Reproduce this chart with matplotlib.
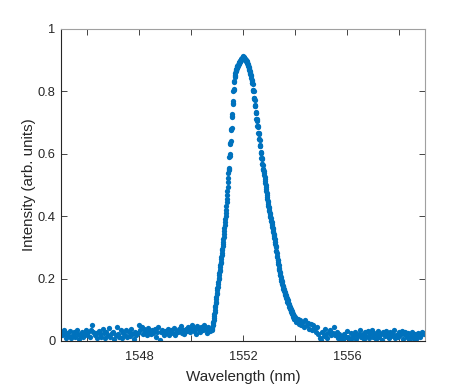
import numpy as np
import matplotlib
matplotlib.use("Agg")
import matplotlib.pyplot as plt
from matplotlib.ticker import FixedLocator

# ---- data ----
# left baseline: 1545.00 .. 1550.75 nm, step 0.05 nm
wl_left_start, wl_left_step = 1545.00, 0.05
int_left = [
    0.030, 0.018, 0.035, 0.022, 0.010, 0.026, 0.015, 0.032, 0.008, 0.020,
    0.028, 0.014, 0.034, 0.022, 0.006, 0.018, 0.030, 0.014, 0.024, 0.036,
    0.020, 0.028, 0.012, 0.034, 0.052, 0.030, 0.018, 0.026, 0.010, 0.032,
    0.022, 0.014, 0.038, 0.026, 0.008, 0.028, 0.020, 0.042, 0.012, 0.025,
    0.030, 0.006, 0.018, 0.044, 0.024, 0.014, 0.034, 0.010, 0.026, 0.020,
    0.036, 0.012, 0.028, 0.017, 0.040, 0.024, 0.006, 0.030, 0.019, 0.027,
    0.050, 0.034, 0.046, 0.024, 0.040, 0.030, 0.018, 0.042, 0.032, 0.024,
    0.036, 0.026, 0.040, 0.014, 0.030, 0.044, 0.004, 0.028, 0.034, 0.020,
    0.032, 0.026, 0.040, 0.020, 0.031, 0.036, 0.025, 0.042, 0.018, 0.033,
    0.029, 0.038, 0.048, 0.026, 0.035, 0.022, 0.040, 0.031, 0.045, 0.028,
    0.038, 0.050, 0.031, 0.042, 0.024, 0.048, 0.036, 0.029, 0.044, 0.034,
    0.050, 0.040, 0.027, 0.045, 0.036, 0.032,
]

# peak region: 1550.80 .. 1553.99 nm, step 0.01 nm
wl_peak_start, wl_peak_step = 1550.80, 0.01
int_peak = [
    0.035, 0.040, 0.043, 0.050, 0.051, 0.057, 0.060, 0.068, 0.074, 0.080,
    0.086, 0.094, 0.100, 0.108, 0.113, 0.121, 0.126, 0.136, 0.141, 0.150,
    0.154, 0.162, 0.170, 0.174, 0.184, 0.190, 0.198, 0.202, 0.210, 0.218,
    0.223, 0.226, 0.236, 0.243, 0.249, 0.254, 0.262, 0.270, 0.276, 0.283,
    0.291, 0.296, 0.305, 0.312, 0.318, 0.326, 0.333, 0.344, 0.352, 0.361,
    0.371, 0.380, 0.391, 0.400, 0.410, 0.421, 0.432, 0.445, 0.456, 0.469,
    0.481, 0.494, 0.508, 0.522, 0.537, 0.548, 0.552, 0.556, 0.590, 0.594,
    0.598, 0.632, 0.636, 0.640, 0.676, 0.680, 0.684, 0.718, 0.722, 0.726,
    0.760, 0.764, 0.768, 0.800, 0.804, 0.808, 0.830, 0.834, 0.846, 0.850,
    0.852, 0.858, 0.864, 0.866, 0.870, 0.872, 0.876, 0.874, 0.880, 0.881,
    0.882, 0.886, 0.884, 0.889, 0.891, 0.892, 0.894, 0.897, 0.895, 0.899,
    0.899, 0.902, 0.900, 0.904, 0.903, 0.903, 0.906, 0.904, 0.908, 0.911,
    0.912, 0.909, 0.906, 0.910, 0.908, 0.907, 0.904, 0.905, 0.901, 0.903,
    0.902, 0.899, 0.900, 0.896, 0.897, 0.895, 0.891, 0.892, 0.887, 0.886,
    0.884, 0.880, 0.878, 0.875, 0.872, 0.870, 0.866, 0.862, 0.859, 0.855,
    0.852, 0.848, 0.842, 0.838, 0.834, 0.828, 0.826, 0.824, 0.806, 0.804,
    0.802, 0.800, 0.780, 0.778, 0.776, 0.774, 0.756, 0.754, 0.752, 0.734,
    0.732, 0.730, 0.712, 0.710, 0.708, 0.706, 0.690, 0.688, 0.686, 0.668,
    0.666, 0.664, 0.648, 0.646, 0.644, 0.628, 0.626, 0.624, 0.606, 0.604,
    0.602, 0.588, 0.586, 0.584, 0.568, 0.566, 0.564, 0.552, 0.550, 0.548,
    0.544, 0.538, 0.532, 0.526, 0.519, 0.513, 0.506, 0.500, 0.492, 0.487,
    0.480, 0.473, 0.469, 0.460, 0.456, 0.450, 0.444, 0.440, 0.433, 0.430,
    0.425, 0.419, 0.416, 0.409, 0.406, 0.402, 0.396, 0.393, 0.386, 0.384,
    0.380, 0.374, 0.371, 0.364, 0.362, 0.358, 0.352, 0.350, 0.343, 0.341,
    0.337, 0.330, 0.327, 0.318, 0.316, 0.312, 0.304, 0.300, 0.290, 0.287,
    0.282, 0.274, 0.270, 0.261, 0.258, 0.254, 0.247, 0.243, 0.234, 0.232,
    0.228, 0.222, 0.219, 0.211, 0.210, 0.206, 0.200, 0.199, 0.192, 0.192,
    0.188, 0.183, 0.183, 0.176, 0.176, 0.173, 0.167, 0.168, 0.161, 0.162,
    0.158, 0.152, 0.154, 0.147, 0.149, 0.145, 0.139, 0.142, 0.134, 0.137,
    0.132, 0.126, 0.130, 0.122, 0.126, 0.121, 0.114, 0.119, 0.110, 0.115,
    0.110, 0.103, 0.108, 0.098, 0.104, 0.099, 0.092, 0.097, 0.088, 0.094,
    0.090, 0.082, 0.088, 0.078, 0.085, 0.081, 0.072, 0.079, 0.070, 0.077,
]

# right baseline: 1554.00 .. 1559.00 nm, step 0.05 nm
wl_right_start, wl_right_step = 1554.00, 0.05
int_right = [
    0.075, 0.062, 0.070, 0.055, 0.068, 0.050, 0.060, 0.045, 0.066, 0.052,
    0.058, 0.040, 0.056, 0.035, 0.050, 0.042, 0.028, 0.046, 0.022, 0.010,
    0.004, 0.030, 0.015, 0.038, 0.022, 0.010, 0.030, 0.036, 0.018, 0.026,
    0.044, 0.020, 0.030, 0.010, 0.024, 0.006, 0.016, 0.004, 0.022, 0.012,
    0.032, 0.014, 0.003, 0.026, 0.010, 0.018, 0.030, 0.006, 0.016, 0.024,
    0.036, 0.012, 0.022, 0.005, 0.028, 0.016, 0.033, 0.009, 0.024, 0.034,
    0.014, 0.026, 0.006, 0.018, 0.032, 0.012, 0.022, 0.004, 0.028, 0.016,
    0.032, 0.020, 0.009, 0.030, 0.016, 0.026, 0.036, 0.008, 0.020, 0.013,
    0.029, 0.018, 0.033, 0.006, 0.022, 0.030, 0.012, 0.026, 0.004, 0.017,
    0.029, 0.011, 0.021, 0.006, 0.019, 0.027, 0.013, 0.023, 0.030, 0.021,
    0.026,
]

x_major_ticks = [1548, 1552, 1556]
x_minor_ticks = [1546, 1550, 1554, 1558]
y_ticks = [0, 0.2, 0.4, 0.6, 0.8, 1.0]
y_tick_labels = ["0", "0.2", "0.4", "0.6", "0.8", "1"]
x_label = "Wavelength (nm)"
y_label = "Intensity (arb. units)"

# ---- build series ----
def grid(start, step, vals):
    return start + step * np.arange(len(vals))

wl = np.concatenate([grid(wl_left_start, wl_left_step, int_left),
                     grid(wl_peak_start, wl_peak_step, int_peak),
                     grid(wl_right_start, wl_right_step, int_right)])
inten = np.concatenate([int_left, int_peak, int_right])

# ---- plot ----
plt.rcParams['font.family'] = ['Liberation Sans', 'DejaVu Sans']
txt = '#262626'
fig = plt.figure(figsize=(4.69, 3.85), dpi=100)
ax = fig.add_axes([0.130, 0.1143, 0.776, 0.8104])

ax.plot(wl, inten, linestyle='none', marker='o', markersize=3.8,
        markeredgewidth=0, color='#0072BD')

ax.set_xlim(1545, 1559)
ax.set_ylim(0, 1)
ax.xaxis.set_major_locator(FixedLocator(x_major_ticks))
ax.xaxis.set_minor_locator(FixedLocator(x_minor_ticks))
ax.set_yticks(y_ticks)
ax.set_yticklabels(y_tick_labels)

ax.tick_params(which='both', direction='in', top=True, right=True,
               length=4, width=0.6, color=txt, labelsize=9.3, labelcolor=txt)
ax.tick_params(axis='x', which='both', pad=7)
ax.tick_params(axis='y', which='both', pad=4)
for s in ax.spines.values():
    s.set_linewidth(0.8)
    s.set_color('#262626')
ax.spines['top'].set_color('#a0a0a0')
ax.spines['right'].set_color('#a0a0a0')

ax.set_xlabel(x_label, fontsize=10.9, color=txt, labelpad=5.5)
ax.set_ylabel(y_label, fontsize=10.9, color=txt, labelpad=1)

fig.savefig('out.png', dpi=100)
